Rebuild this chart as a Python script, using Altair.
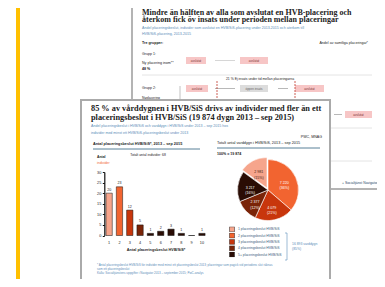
import altair as alt
import pandas as pd

# ---------------- data ----------------
placements = [1, 2, 3, 4, 5, 6, 7, 8, 9, 10]
individuals = [20, 23, 12, 5, 1, 2, 3, 1, 0, 1]
groups = ["1 placeringsbeslut HVB/SiS", "2 placeringsbeslut HVB/SiS",
          "3 placeringsbeslut HVB/SiS", "4 placeringsbeslut HVB/SiS",
          "5+ placeringsbeslut HVB/SiS"]
group_colors = ["#f6a58c", "#f26430", "#c8360c", "#7a2408", "#2a0c04"]
pie_days = [2981, 7220, 4079, 2377, 3217]
pie_share = [15, 36, 21, 12, 16]
pie_order = [5, 1, 2, 3, 4]
y_ticks = [0, 5, 10, 15, 20, 25, 30]

bars_df = pd.DataFrame({
    "n": placements,
    "ind": individuals,
    "grp": [groups[min(p, 5) - 1] for p in placements],
})
pie_df = pd.DataFrame({
    "grp": groups,
    "dygn": pie_days,
    "ord": pie_order,
    "lab": [f"{d:,}".replace(",", " ") + f"\n({s}%)" for d, s in zip(pie_days, pie_share)],
})

one = pd.DataFrame({"k": [0]})
SANS = "Liberation Sans"
SERIF = "Liberation Serif"
BLUE = "#5b8db8"
DARK = "#222222"
W, H = 369, 271


def txt(s, x, y, size=4.0, color=DARK, weight="normal", align="left", font=SANS, style="normal"):
    return alt.Chart(one).mark_text(
        text=s, align=align, baseline="middle", fontSize=size, color=color,
        fontWeight=weight, font=font, fontStyle=style
    ).encode(x=alt.value(x), y=alt.value(y))


def box(x, x2, y, y2, fill, stroke=None, sw=0.0):
    kw = dict(fill=fill)
    if stroke:
        kw.update(stroke=stroke, strokeWidth=sw)
    return alt.Chart(one).mark_rect(**kw).encode(
        x=alt.value(x), x2=alt.value(x2), y=alt.value(y), y2=alt.value(y2))


def line(x, x2, y, y2, color, w=1.0, dash=None):
    kw = dict(color=color, strokeWidth=w)
    if dash:
        kw.update(strokeDash=dash)
    return alt.Chart(one).mark_rule(**kw).encode(
        x=alt.value(x), x2=alt.value(x2), y=alt.value(y), y2=alt.value(y2))


layers = []
# yellow accent bar
layers.append(box(8, 12, 0, H, "#ffc000"))

# ---------------- back slide ----------------
layers += [
    box(124, 374, -6, 181, "white", "#b4b4b4", 2),
    txt("Mindre än hälften av alla som avslutat en HVB-placering och", 134, 4.5, 8, DARK, "bold", font=SERIF),
    txt("återkom fick öv insats under perioden mellan placeringar", 134, 12, 8, DARK, "bold", font=SERIF),
    txt("Andel placeringsbeslut, individer som avslutat en HVB/SiS-placering under 2013-2015 och återkom till", 134, 20, 3.6, BLUE),
    txt("HVB/SiS-placering, 2013-2015", 134, 26, 3.6, BLUE),
    txt("Tre grupper:", 134, 35, 3.6, DARK, "bold"),
    txt("Andel av samtliga placeringar*", 360, 35, 3.6, DARK, align="right"),
    txt("Grupp 1:", 134, 46, 3.6),
    txt("Ny placering inom**", 134, 55, 3.6),
    txt("48 %", 134, 61, 3.6, DARK, "bold"),
    box(178, 198, 49, 56, "#f7c6c6"),
    box(232, 260, 49, 56, "#f7c6c6"),
    txt("avslutat", 188, 52.5, 3, "#7a3030", align="center"),
    txt("avslutat", 246, 52.5, 3, "#7a3030", align="center"),
    line(207, 227, 52.5, 52.5, "#bbbbbb", 0.6),
    line(134, 364, 67, 67, "#dddddd", 0.8),
    txt("21 % Ej insats under tid mellan placeringarna", 252, 70.5, 3.4, DARK, align="center"),
    txt("Grupp 2:", 134, 80, 3.6),
    txt("Nyplacering", 134, 90, 3.4),
    box(178, 200, 77, 84, "#f7c6c6"),
    box(232, 260, 77, 84, "#dcdcdc"),
    box(287, 316, 77, 84, "#f7c6c6"),
    txt("avslutat", 189, 80.5, 3, "#7a3030", align="center"),
    txt("öppen insats", 246, 80.5, 3, "#666666", align="center"),
    txt("avslutat", 301.5, 80.5, 3, "#7a3030", align="center"),
    line(207, 227, 80.5, 80.5, "#888888", 0.6),
    line(270, 280, 80.5, 80.5, "#888888", 0.6),
    line(172, 172, 78, 92, "#999999", 0.6),
    line(209, 209, 73, 92, "#c0392b", 0.8, [2, 1]),
    line(287, 287, 73, 92, "#c0392b", 0.8, [2, 1]),
    box(337, 364, 103, 110, "#f7c6c6"),
    txt("avslutat", 350.5, 106.5, 3, "#7a3030", align="center"),
    line(326, 334, 106.5, 106.5, "#888888", 0.6),
    line(322, 364, 120, 120, "#dddddd", 0.8),
    line(322, 364, 153, 153, "#dddddd", 0.8),
    txt("+ Socialtjänst Navigator", 334, 175, 3.4, "#2a4a6a"),
]

# ---------------- front slide ----------------
layers += [
    box(73, 322, 92, 292, "white", "#aaaaaa", 2),
    txt("85 % av vårddygnen i HVB/SiS drivs av individer med fler än ett", 83, 101, 8.3, DARK, "bold", font=SERIF),
    txt("placeringsbeslut i HVB/SiS (19 874 dygn 2013 – sep 2015)", 83, 110, 8.3, DARK, "bold", font=SERIF),
    txt("Andel placeringsbeslut i HVB/SiS och vårddygn i HVB/SiS under 2013 – sep 2015 hos", 83, 118, 3.6, BLUE),
    txt("individer med minst ett HVB/SiS-placeringsbeslut under 2013", 83, 125, 3.6, BLUE),
    txt("PWC, MNAG", 314, 129, 3.6, DARK, align="right"),
    txt("Antal placeringsbeslut HVB/SiS*, 2013 – sep 2015", 85, 136, 3.8, DARK, "bold"),
    line(85, 192, 141, 141, "#2f5f7f", 0.8),
    txt("Totalt antal vårddygn i HVB/SiS, 2013 – sep 2015", 209, 135, 3.8, DARK),
    line(209, 312, 140, 140, "#2f5f7f", 0.8),
    txt("Totalt antal individer: 68", 140, 146.5, 3.4, DARK, align="center"),
    txt("100% = 19 874", 209, 146, 3.6, DARK, "bold"),
    txt("Antal", 89, 148.5, 3.4, DARK, "bold"),
    txt("individer", 89, 155, 3.4, "#f26430"),
    line(279, 279, 225, 252, "#5b8db8", 0.6),
    line(277, 279, 225, 225, "#5b8db8", 0.6),
    line(277, 279, 252, 252, "#5b8db8", 0.6),
    txt("16 893 vårddygn", 284, 236, 3.4, BLUE),
    txt("(85%)", 284, 241, 3.4, BLUE),
    txt("*   Antal placeringsbeslut HVB/SiS för individer med minst ett placeringsbeslut 2013; placeringar som pågick vid periodens slut räknas", 89, 257, 3, BLUE),
    txt("     som ett placeringsbeslut", 89, 261, 3, BLUE),
    txt("Källa: Socialtjänstens uppgifter i Navigator 2013 – september 2015; PwC-analys", 89, 265, 3, BLUE),
]

# ---------------- charts ----------------
color_enc = alt.Color(
    "grp:N",
    scale=alt.Scale(domain=groups, range=group_colors),
    legend=alt.Legend(
        orient="none", legendX=221, legendY=218.5, title=None, symbolType="square",
        symbolSize=25, labelFontSize=3.4, rowPadding=0.3, labelColor="#3b5a7a",
        symbolStrokeColor="#222222", symbolStrokeWidth=0.5, labelOffset=3,
        padding=0, labelFont=SANS, labelLimit=200, zindex=2, symbolOffset=0,
        clipHeight=5.6,
    ),
)

X0, X1 = 96.3, 198.8
Y0, Y1 = 227.5, 164
x_scale = alt.Scale(domain=placements, range=[X0, X1], paddingInner=0.39, paddingOuter=0.165)
y_scale = alt.Scale(domain=[0, 30], range=[Y0, Y1])
x_axis = alt.Axis(
    title="Antal placeringsbeslut HVB/SiS*", titleFontSize=3.8, titleFontWeight="bold",
    titleFont=SANS, titleColor=DARK, titlePadding=3, labelFontSize=3.8, labelFont=SANS,
    labelColor=DARK, labelPadding=5, labelAngle=0, domain=False, ticks=False, zindex=2,
    offset=-(H - Y0))
y_axis = alt.Axis(
    values=y_ticks, title=None, grid=False, labelFontSize=3.8, labelFont=SANS,
    labelColor=DARK, tickSize=2, tickColor="#111111", domainColor="#111111",
    domainWidth=1.2, labelPadding=1.5, zindex=2, offset=-X0)

bars = alt.Chart(bars_df).mark_bar(stroke="#111111", strokeWidth=0.5).encode(
    x=alt.X("n:O", scale=x_scale, axis=x_axis),
    y=alt.Y("ind:Q", scale=y_scale, axis=y_axis),
    color=color_enc,
)
bar_labels = alt.Chart(bars_df).transform_filter("datum.ind > 0").mark_text(
    dy=-1.5, fontSize=3.6, font=SANS, color=DARK, baseline="bottom"
).encode(x=alt.X("n:O", scale=x_scale, axis=x_axis),
         y=alt.Y("ind:Q", scale=y_scale, axis=y_axis),
         text="ind:Q")

theta_scale = alt.Scale(domain=[0, sum(pie_days)])
pie_base = alt.Chart(pie_df).transform_stack(
    stack="dygn", groupby=[], as_=["t0", "t1"], sort=[alt.SortField("ord")]
).transform_calculate(mid="(datum.t0 + datum.t1) / 2")

pie_main = pie_base.transform_filter("datum.ord != 5").mark_arc(
    outerRadius=30.5, stroke="white", strokeWidth=0.6).encode(
    theta=alt.Theta("t0:Q", scale=theta_scale), theta2="t1:Q", color=color_enc,
    x=alt.value(260), y=alt.value(182))
pie_expl = pie_base.transform_filter("datum.ord == 5").mark_arc(
    outerRadius=30.5, stroke="white", strokeWidth=0.6).encode(
    theta=alt.Theta("t0:Q", scale=theta_scale), theta2="t1:Q", color=color_enc,
    x=alt.value(259), y=alt.value(180))
lab_main = pie_base.transform_filter("datum.ord != 5").mark_text(
    radius=18, fontSize=3.6, font=SANS, lineBreak="\n", align="center",
    baseline="middle", color="white").encode(
    theta=alt.Theta("mid:Q", scale=theta_scale, stack=None), text="lab:N",
    x=alt.value(260), y=alt.value(182))
lab_expl = pie_base.transform_filter("datum.ord == 5").mark_text(
    radius=18, fontSize=3.6, font=SANS, lineBreak="\n", align="center",
    baseline="middle", color="#3a1a10").encode(
    theta=alt.Theta("mid:Q", scale=theta_scale, stack=None), text="lab:N",
    x=alt.value(259), y=alt.value(180))

layers += [bars, bar_labels, pie_main, pie_expl, lab_main, lab_expl]

chart = alt.layer(*layers).properties(
    width=W, height=H, padding=0,
    autosize=alt.AutoSizeParams(type="none"),
    background="white",
).configure_view(stroke=None)

chart.save("out.html", embed_options={"renderer": "svg", "actions": False})
